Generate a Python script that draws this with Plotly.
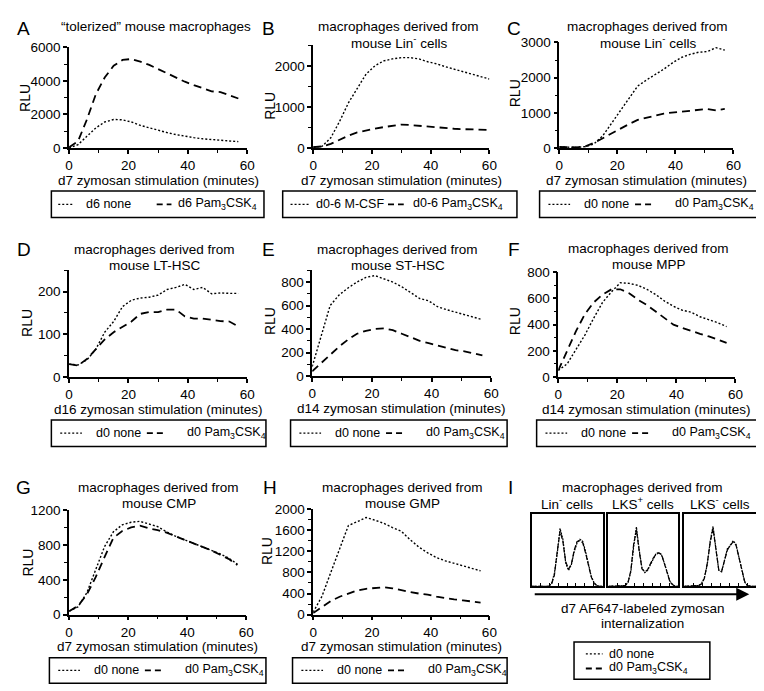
import plotly.graph_objects as go

W, H = 764, 691
FONT = "Liberation Sans, Arial, sans-serif"

# ---------- Data ----------
t_a = [0, 3, 6, 9, 12, 15, 18, 21, 24, 27, 30, 33, 36, 39, 42, 45, 48, 51, 54, 57]
a_none = [0, 200, 700, 1200, 1550, 1700, 1680, 1550, 1350, 1200, 1050, 920, 800, 700, 620, 550, 500, 460, 420, 380]
a_pam = [50, 400, 1700, 3200, 4200, 4900, 5250, 5300, 5150, 4950, 4700, 4450, 4200, 3950, 3750, 3550, 3380, 3330, 3150, 2950]

t_b = [0, 3, 6, 9, 12, 15, 18, 21, 24, 27, 30, 33, 36, 39, 42, 45, 48, 51, 54, 57, 60]
b_mcsf = [20, 40, 250, 650, 1100, 1450, 1800, 2000, 2120, 2170, 2200, 2200, 2170, 2100, 2050, 1980, 1920, 1860, 1800, 1740, 1680]
b_pam = [20, 40, 100, 200, 300, 380, 430, 470, 510, 540, 570, 560, 540, 520, 500, 490, 470, 460, 450, 445, 440]

t_std = [0, 3, 6, 9, 12, 15, 18, 21, 24, 27, 30, 33, 36, 39, 42, 45, 48, 51, 54, 57]
c_none = [30, 20, 20, 40, 120, 350, 700, 1050, 1420, 1760, 1930, 2080, 2240, 2420, 2570, 2660, 2720, 2740, 2850, 2780]
c_pam = [30, 20, 20, 50, 150, 280, 420, 560, 680, 800, 870, 920, 980, 1010, 1030, 1060, 1090, 1110, 1070, 1110]
d_none = [30, 28, 40, 65, 105, 130, 165, 180, 185, 187, 192, 205, 210, 217, 205, 210, 195, 197, 196, 196]
d_pam = [30, 27, 42, 65, 88, 105, 118, 130, 148, 152, 152, 158, 158, 142, 137, 137, 134, 131, 130, 118]
e_none = [80, 350, 600, 690, 750, 800, 840, 855, 830, 800, 760, 710, 660, 640, 590, 565, 545, 525, 505, 480]
e_pam = [40, 110, 180, 250, 310, 360, 385, 400, 405, 390, 360, 330, 300, 280, 260, 240, 220, 210, 190, 175]
f_none = [50, 100, 210, 320, 450, 570, 650, 720, 715, 700, 670, 630, 580, 540, 510, 495, 460, 440, 415, 385]
f_pam = [50, 200, 350, 480, 570, 630, 670, 670, 640, 590, 550, 500, 450, 400, 375, 350, 330, 310, 285, 260]
g_none = [40, 90, 250, 520, 780, 950, 1030, 1060, 1070, 1040, 1010, 950, 900, 860, 820, 780, 740, 700, 650, 580]
g_pam = [40, 100, 230, 430, 660, 880, 960, 1000, 1020, 990, 970, 940, 900, 860, 820, 780, 740, 690, 640, 570]
h_none = [50, 350, 800, 1250, 1690, 1760, 1840, 1790, 1730, 1650, 1580, 1420, 1280, 1170, 1080, 1020, 970, 930, 880, 830]
h_pam = [30, 150, 260, 340, 400, 460, 490, 510, 520, 500, 460, 430, 400, 380, 340, 310, 290, 270, 250, 230]

# panel I: zymosan uptake histograms (% of max)
hist_x = [0, 4, 8, 12, 16, 20, 24, 28, 32, 36, 40, 44, 48, 52, 56, 60, 64, 68, 72, 76, 80, 84, 88, 92, 96, 100]
lin_none = [0, 0, 0, 0, 0, 0, 0, 4, 18, 45, 80, 65, 32, 22, 30, 48, 60, 65, 62, 48, 30, 14, 5, 1, 0, 0]
lin_pam = [0, 0, 0, 0, 0, 0, 0, 3, 15, 48, 76, 62, 34, 24, 31, 50, 62, 63, 60, 46, 28, 13, 4, 1, 0, 0]
lksp_none = [0, 0, 0, 0, 0, 0, 1, 6, 20, 55, 82, 50, 25, 19, 22, 30, 38, 45, 47, 43, 32, 18, 7, 2, 0, 0]
lksp_pam = [0, 0, 0, 0, 0, 0, 1, 5, 22, 58, 78, 48, 24, 20, 23, 31, 39, 44, 46, 44, 31, 17, 6, 2, 0, 0]
lksm_none = [0, 0, 0, 0, 0, 1, 4, 12, 30, 62, 83, 55, 22, 20, 35, 52, 56, 63, 58, 40, 20, 6, 1, 0, 0, 0]
lksm_pam = [0, 0, 0, 0, 0, 1, 3, 11, 32, 60, 80, 53, 23, 21, 36, 50, 57, 61, 57, 41, 21, 7, 1, 0, 0, 0]

PAM = "Pam<sub>3</sub>CSK<sub>4</sub>"
DOT = "2px,2px"
DASH = "8px,5px"


def px(x):
    return x / W


def py(y):
    return 1 - y / H


annotations, shapes = [], []


def text(x, y, s, size=13.5, anchor="center", angle=0):
    annotations.append(dict(x=px(x), y=py(y), xref="paper", yref="paper", text=s,
                            showarrow=False, xanchor=anchor, yanchor="middle",
                            textangle=angle,
                            font=dict(size=size, family=FONT, color="black")))


def seg(x0, x1, y, dash, width=1.5):
    shapes.append(dict(type="line", xref="paper", yref="paper",
                       x0=px(x0), x1=px(x1), y0=py(y), y1=py(y),
                       line=dict(color="black", width=width, dash=dash)))


def box(x0, x1, y0, y1):
    shapes.append(dict(type="rect", xref="paper", yref="paper",
                       x0=px(x0), x1=px(x1), y0=py(y1), y1=py(y0),
                       line=dict(color="black", width=1.5)))


# ---------- Panel layout (pixel positions in the 764x691 figure) ----------
STD_OFF = (9, 31, 43, 97, 117, 136)
panels = [
    dict(letter="A", lxy=(12, 14), title=["“tolerized” mouse macrophages"], txy=(146, 12),
         dom=(58, 239, 33, 136), yr=6000, ydt=2000, ymin=1000, day="d7", rlu=(13, 85),
         t=t_a, y1=a_none, y2=a_pam, lab=("d6 none", "d6 " + PAM),
         leg=(40, 256, 180, 207), off=(7, 23, 33, 107, 122, 127)),
    dict(letter="B", lxy=(261, 14), title=["macrophages derived from", "mouse Lin<sup>-</sup> cells"],
         txy=(393, 12), dom=(306, 485, 31, 136), yr=2500, ydt=1000, ymin=500, day="d7",
         rlu=(262, 93), t=t_b, y1=b_mcsf, y2=b_pam, lab=("d0-6 M-CSF", "d0-6 " + PAM),
         leg=(275, 513, 180, 207), off=(8, 27, 32, 107, 123, 130)),
    dict(letter="C", lxy=(510, 14), title=["macrophages derived from", "mouse Lin<sup>-</sup> cells"],
         txy=(646, 12), dom=(556, 733, 28, 136), yr=3000, ydt=1000, ymin=500, day="d7",
         rlu=(511, 80), t=t_std, y1=c_none, y2=c_pam, lab=("d0 none", "d0 " + PAM),
         leg=(536, 758, 180, 207), off=STD_OFF),
    dict(letter="D", lxy=(12, 240), title=["macrophages derived from", "mouse LT-HSC"],
         txy=(145, 240), dom=(58, 239, 261, 370), yr=250, ydt=100, ymin=50, day="d16",
         rlu=(15, 315), t=t_std, y1=d_none, y2=d_pam, lab=("d0 none", "d0 " + PAM),
         leg=(40, 258, 414, 441), off=STD_OFF),
    dict(letter="E", lxy=(261, 240), title=["macrophages derived from", "mouse ST-HSC"],
         txy=(392, 240), dom=(305, 487, 261, 369), yr=900, ydt=200, ymin=100, day="d14",
         rlu=(262, 313), t=t_std, y1=e_none, y2=e_pam, lab=("d0 none", "d0 " + PAM),
         leg=(283, 503, 414, 441), off=STD_OFF),
    dict(letter="F", lxy=(510, 240), title=["macrophages derived from", "mouse MPP"],
         txy=(647, 239), dom=(555, 735, 263, 370), yr=800, ydt=200, ymin=100, day="d14",
         rlu=(511, 313), t=t_std, y1=f_none, y2=f_pam, lab=("d0 none", "d0 " + PAM),
         leg=(533, 760, 414, 441), off=STD_OFF),
    dict(letter="G", lxy=(12, 483), title=["macrophages derived from", "mouse CMP"],
         txy=(149, 483), dom=(58, 238, 506, 613), yr=1200, ydt=400, ymin=200, day="d7",
         rlu=(16, 560), t=t_std, y1=g_none, y2=g_pam, lab=("d0 none", "d0 " + PAM),
         leg=(38, 258, 657, 683), off=STD_OFF),
    dict(letter="H", lxy=(262, 483), title=["macrophages derived from", "mouse GMP"],
         txy=(397, 483), dom=(306, 485, 505, 613), yr=2000, ydt=400, ymin=200, day="d7",
         rlu=(259, 548), t=t_std, y1=h_none, y2=h_pam, lab=("d0 none", "d0 " + PAM),
         leg=(285, 503, 657, 683), off=STD_OFF),
]

axis_style = dict(showline=True, linecolor="black", linewidth=1.5, ticks="outside",
                  ticklen=4, tickwidth=1.5, tickcolor="black", showgrid=False,
                  zeroline=False, tickfont=dict(size=13.5, family=FONT, color="black"))

fig = go.Figure()
layout = {}

for i, p in enumerate(panels, start=1):
    sfx = "" if i == 1 else str(i)
    x0, x1, ytop, ybot = p["dom"]
    for ys, dash, w in ((p["y1"], DOT, 1.4), (p["y2"], DASH, 1.8)):
        fig.add_trace(go.Scatter(x=p["t"], y=ys, mode="lines", xaxis="x" + sfx, yaxis="y" + sfx,
                                 line=dict(color="black", width=w, dash=dash), hoverinfo="skip"))
    layout["xaxis" + sfx] = dict(domain=[px(x0), px(x1)], anchor="y" + sfx, range=[0, 60],
                                 tick0=0, dtick=20,
                                 minor=dict(dtick=10, ticks="outside", ticklen=3,
                                            tickcolor="black", tickwidth=1.2),
                                 **axis_style)
    layout["yaxis" + sfx] = dict(domain=[py(ybot), py(ytop)], anchor="x" + sfx,
                                 range=[0, p["yr"]], tick0=0, dtick=p["ydt"],
                                 minor=dict(dtick=p["ymin"], ticks="outside", ticklen=3,
                                            tickcolor="black", tickwidth=1.2),
                                 **axis_style)
    # panel letter, title, axis titles
    text(*p["lxy"], p["letter"], size=19)
    tx, ty = p["txy"]
    for k, line in enumerate(p["title"]):
        text(tx, ty + 16 * k, line)
    text((x0 + x1) / 2, ybot + 33, p["day"] + " zymosan stimulation (minutes)", size=13.5)
    text(*p["rlu"], "RLU", size=14, angle=-90)
    # boxed legend
    lx0, lx1, ly0, ly1 = p["leg"]
    s1a, s1b, t1, s2a, s2b, t2 = p["off"]
    ym = (ly0 + ly1) / 2
    box(lx0, lx1, ly0, ly1)
    seg(lx0 + s1a, lx0 + s1b, ym, DOT, 1.3)
    text(lx0 + t1, ym, p["lab"][0], size=12.5, anchor="left")
    seg(lx0 + s2a, lx0 + s2b, ym, "6px,4px", 1.8)
    text(lx0 + t2, ym, p["lab"][1], size=12.5, anchor="left")

# ---------- Panel I: histograms ----------
hist = [("Lin<sup>-</sup> cells", lin_none, lin_pam, (528, 600)),
        ("LKS<sup>+</sup> cells", lksp_none, lksp_pam, (606, 677)),
        ("LKS<sup>-</sup> cells", lksm_none, lksm_pam, (683, 756))]
box_top, box_bot = 510, 584
for j, (lab, yn, yp, (bx0, bx1)) in enumerate(hist, start=len(panels) + 1):
    sfx = str(j)
    fig.add_trace(go.Scatter(x=hist_x, y=yn, mode="lines", xaxis="x" + sfx, yaxis="y" + sfx,
                             line=dict(color="black", width=1.2, dash="2px,1px"), hoverinfo="skip"))
    fig.add_trace(go.Scatter(x=hist_x, y=yp, mode="lines", xaxis="x" + sfx, yaxis="y" + sfx,
                             line=dict(color="black", width=1.2, dash="5px,2px"), hoverinfo="skip"))
    layout["xaxis" + sfx] = dict(domain=[px(bx0), px(bx1)], anchor="y" + sfx, range=[0, 100],
                                 showline=True, mirror=True, linecolor="black", linewidth=1.8,
                                 ticks="inside", ticklen=3, tickcolor="black", dtick=12.5, tick0=12.5,
                                 showticklabels=False, showgrid=False, zeroline=False)
    layout["yaxis" + sfx] = dict(domain=[py(box_bot), py(box_top)], anchor="x" + sfx,
                                 range=[0, 100], showline=True, mirror=True, linecolor="black",
                                 linewidth=1.8, showticklabels=False, showgrid=False,
                                 zeroline=False)
    text((bx0 + bx1) / 2, 499, lab)

text(506, 483, "I", size=19)
text(641, 483, "macrophages derived from")
text(641, 607, "d7 AF647-labeled zymosan")
text(641, 622, "internalization")
annotations.append(dict(x=px(749), y=py(592), xref="paper", yref="paper", ax=-216, ay=0,
                        text="", showarrow=True, arrowhead=2, arrowsize=1.3,
                        arrowwidth=2, arrowcolor="black"))
box(571, 709, 641, 679)
seg(583, 600, 653, DOT, 1.3)
text(605, 653, "d0 none", size=12.5, anchor="left")
seg(583, 600, 668, "6px,4px", 1.8)
text(605, 668, "d0 " + PAM, size=12.5, anchor="left")

fig.update_layout(
    width=W, height=H, margin=dict(l=0, r=0, t=0, b=0),
    plot_bgcolor="white", paper_bgcolor="white", showlegend=False,
    font=dict(family=FONT, color="black"),
    annotations=annotations, shapes=shapes, **layout,
)

fig.write_html("out.html")
